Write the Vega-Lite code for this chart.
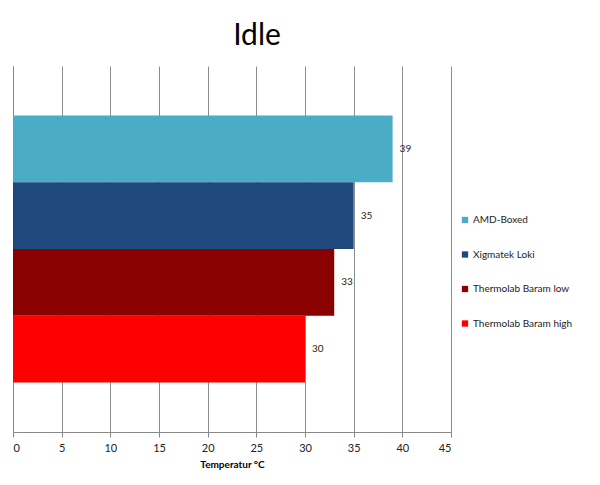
{
  "$schema": "https://vega.github.io/schema/vega-lite/v6.json",
  "width": 438,
  "height": 366,
  "autosize": "none",
  "padding": {"left": 13, "top": 66, "right": 149, "bottom": 53},
  "background": "white",
  "title": {"text": "Idle", "font": "Lato", "fontSize": 30, "fontWeight": "normal", "color": "black", "anchor": "middle", "dx": 25, "offset": 15},
  "config": {
    "view": {"stroke": null},
    "font": "Lato",
    "text": {"font": "Lato"}
  },
  "data": {"values": [
    {"cooler": "AMD-Boxed", "temp": 39},
    {"cooler": "Xigmatek Loki", "temp": 35},
    {"cooler": "Thermolab Baram low", "temp": 33},
    {"cooler": "Thermolab Baram high", "temp": 30}
  ]},
  "encoding": {
    "y": {"field": "cooler", "type": "nominal",
      "sort": ["AMD-Boxed", "Xigmatek Loki", "Thermolab Baram low", "Thermolab Baram high"],
      "scale": {"paddingInner": 0, "paddingOuter": 0.74},
      "axis": {"labels": false, "ticks": false, "title": null, "domainColor": "#888888", "grid": false}},
    "x": {"field": "temp", "type": "quantitative",
      "scale": {"domain": [0, 45], "nice": false},
      "axis": {"values": [0, 5, 10, 15, 20, 25, 30, 35, 40, 45], "grid": true, "gridColor": "#8c8c8c", "gridOpacity": 1,
        "domainColor": "#888888", "tickColor": "#888888", "tickSize": 5, "labelFont": "Lato", "labelFontSize": 11,
        "labelColor": "#222222", "labelPadding": 5, "title": "Temperatur °C", "titleFont": "Lato", "titleFontSize": 10,
        "titleFontWeight": "bold", "titleColor": "black", "titlePadding": 6}}
  },
  "layer": [
    {"mark": {"type": "bar"},
      "encoding": {
        "color": {"field": "cooler", "type": "nominal",
          "scale": {"domain": ["AMD-Boxed", "Xigmatek Loki", "Thermolab Baram low", "Thermolab Baram high"],
            "range": ["#4BACC6", "#1F497D", "#8B0000", "#FF0000"]},
          "legend": {"title": null, "orient": "none", "legendX": 447, "legendY": 149, "symbolType": "square",
            "symbolSize": 40, "symbolStrokeWidth": 0, "labelFont": "Lato", "labelFontSize": 10, "labelColor": "#222222",
            "rowPadding": 24.5, "labelOffset": 3, "labelLimit": 200}}
      }},
    {"mark": {"type": "text", "align": "left", "baseline": "middle", "dx": 7, "fontSize": 10, "color": "#222222", "font": "Lato"},
      "encoding": {"text": {"field": "temp", "type": "quantitative"}}}
  ]
}
